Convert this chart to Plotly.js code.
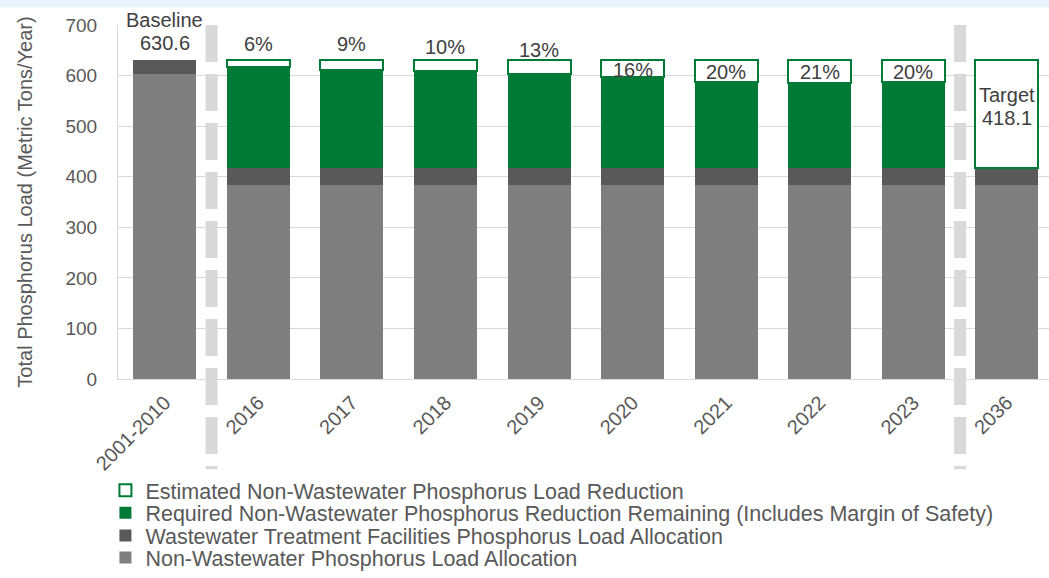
<!DOCTYPE html>
<html>
<head>
<meta charset="utf-8">
<script src="https://cdn.plot.ly/plotly-3.0.1.min.js"></script>
<style>html,body{margin:0;padding:0;background:#fff;}#chart{width:1049px;height:578px;}</style>
</head>
<body>
<div id="chart"></div>
<script>
// ---- data ----
const categories = ['2001-2010','2016','2017','2018','2019','2020','2021','2022','2023','2036'];
const nonWastewaterAlloc = [603.0, 383.0, 383.0, 383.0, 383.0, 383.0, 383.0, 383.0, 383.0, 383.0];
const wastewaterAlloc = [27.6, 35.1, 35.1, 35.1, 35.1, 35.1, 35.1, 35.1, 35.1, 35.1];
const requiredRemaining = [null, 199.7, 193.4, 191.2, 184.9, 178.5, 170.0, 167.9, 170.0, null];
const estimatedReduction = [null, 12.8, 19.1, 21.3, 27.6, 34.0, 42.5, 44.6, 42.5, 212.5];
const pctLabels = [null, '6%', '9%', '10%', '13%', '16%', '20%', '21%', '20%', null];
const baselineText = ['Baseline', '630.6'];
const targetText = ['Target', '418.1'];

// ---- style ----
const FONT = 'Liberation Sans, Arial, sans-serif';
const GREEN = '#007a37';
const DARK = '#595959';
const LIGHT = '#7f7f7f';
const TXT = '#404040';
const AX = '#595959';

const names = [
  'Non-Wastewater Phosphorus Load Allocation',
  'Wastewater Treatment Facilities Phosphorus Load Allocation',
  'Required Non-Wastewater Phosphorus Reduction Remaining (Includes Margin of Safety)',
  'Estimated Non-Wastewater Phosphorus Load Reduction'
];

const traces = [
  {type:'bar', x:categories, y:nonWastewaterAlloc, name:names[0], legend:'legend4',
   marker:{color:LIGHT, line:{width:0}}},
  {type:'bar', x:categories, y:wastewaterAlloc, name:names[1], legend:'legend3',
   marker:{color:DARK, line:{width:0}}},
  {type:'bar', x:categories, y:requiredRemaining, name:names[2], legend:'legend2',
   marker:{color:GREEN, line:{width:0}}},
  {type:'bar', x:categories, y:estimatedReduction, name:names[3], legend:'legend',
   marker:{color:'#ffffff', line:{color:GREEN, width:2}}}
];

const totals = categories.map((c, i) =>
  [nonWastewaterAlloc, wastewaterAlloc, requiredRemaining, estimatedReduction]
    .reduce((s, arr) => s + (arr[i] || 0), 0));
const lowerTotals = categories.map((c, i) => nonWastewaterAlloc[i] + wastewaterAlloc[i]);

const annFont = {family:FONT, size:20, color:TXT};
const annotations = [];
// percent-reduction labels (x given as category index on the category axis)
const liftAbove = [0, 16, 16, 13, 10, 0, 0, 0, 0, 0];
pctLabels.forEach((lab, i) => {
  if (!lab) return;
  const est = estimatedReduction[i];
  if (est >= 30) {
    annotations.push({x:i, y:totals[i] - est / 2, text:lab, showarrow:false,
      xanchor:'center', yanchor:'middle', yshift:-1, font:annFont});
  } else {
    annotations.push({x:i, y:totals[i], text:lab, showarrow:false,
      xanchor:'center', yanchor:'middle', yshift:liftAbove[i], font:annFont});
  }
});
// baseline label
annotations.push({x:0, y:totals[0], text:baselineText[0], showarrow:false,
  xanchor:'center', yanchor:'middle', yshift:40, font:annFont});
annotations.push({x:0, y:totals[0], text:baselineText[1], showarrow:false,
  xanchor:'center', yanchor:'middle', yshift:17.5, font:annFont});
// target label
const last = categories.length - 1;
const tMid = lowerTotals[last] + estimatedReduction[last] / 2;
annotations.push({x:last, y:tMid, text:targetText[0], showarrow:false,
  xanchor:'center', yanchor:'middle', yshift:18.5, font:annFont});
annotations.push({x:last, y:tMid, text:targetText[1], showarrow:false,
  xanchor:'center', yanchor:'middle', yshift:-4.5, font:annFont});

const H = 578, T = 25, B = 192;
const plotH = H - T - B;
const py = px => (H - B - px) / plotH;   // pixel row -> paper y

const dashLine = xpos => ({type:'line', xref:'x', yref:'paper', x0:xpos, x1:xpos,
  y0:py(25), y1:py(478), layer:'below', line:{color:'#d9d9d9', width:12, dash:'37px,12px'}});

const legendBase = (ypx) => ({x:-0.0135, xanchor:'left', y:py(ypx), yanchor:'middle',
  bgcolor:'rgba(0,0,0,0)', borderwidth:0, font:{family:FONT, size:21.5, color:AX},
  orientation:'v'});

const layout = {
  width:1049, height:578,
  margin:{l:118, r:0, t:T, b:B, pad:0},
  paper_bgcolor:'#ffffff', plot_bgcolor:'#ffffff',
  barmode:'stack', bargap:0.327,
  font:{family:FONT, color:AX},
  showlegend:true,
  legend: legendBase(499.5),
  legend2: legendBase(522.5),
  legend3: legendBase(545.5),
  legend4: legendBase(568.5),
  xaxis:{type:'category', range:[-0.5, 9.45], tickangle:-45, ticks:'',
    tickfont:{family:FONT, size:20, color:AX}, ticklabelstandoff:3,
    showline:true, linecolor:'#d9d9d9',
    linewidth:1, showgrid:false, automargin:false, fixedrange:true},
  yaxis:{range:[0,700], dtick:100, ticks:'', showgrid:true, gridcolor:'#d9d9d9',
    gridwidth:1, showline:true, linecolor:'#d9d9d9', zeroline:false,
    tickfont:{family:FONT, size:19, color:AX}, ticklabelstandoff:16,
    title:{text:'Total Phosphorus Load (Metric Tons/Year)', standoff:27,
      font:{family:FONT, size:20, color:AX}},
    automargin:false, fixedrange:true},
  shapes:[
    {type:'rect', xref:'paper', yref:'paper', x0:-0.2, x1:1.05, y0:py(7), y1:py(-2),
      fillcolor:'#e5f3fb', line:{width:0}, layer:'below'},
    dashLine(0.5),
    dashLine(8.5)
  ],
  annotations:annotations
};

Plotly.newPlot('chart', traces, layout, {displayModeBar:false, staticPlot:true});
</script>
</body>
</html>
